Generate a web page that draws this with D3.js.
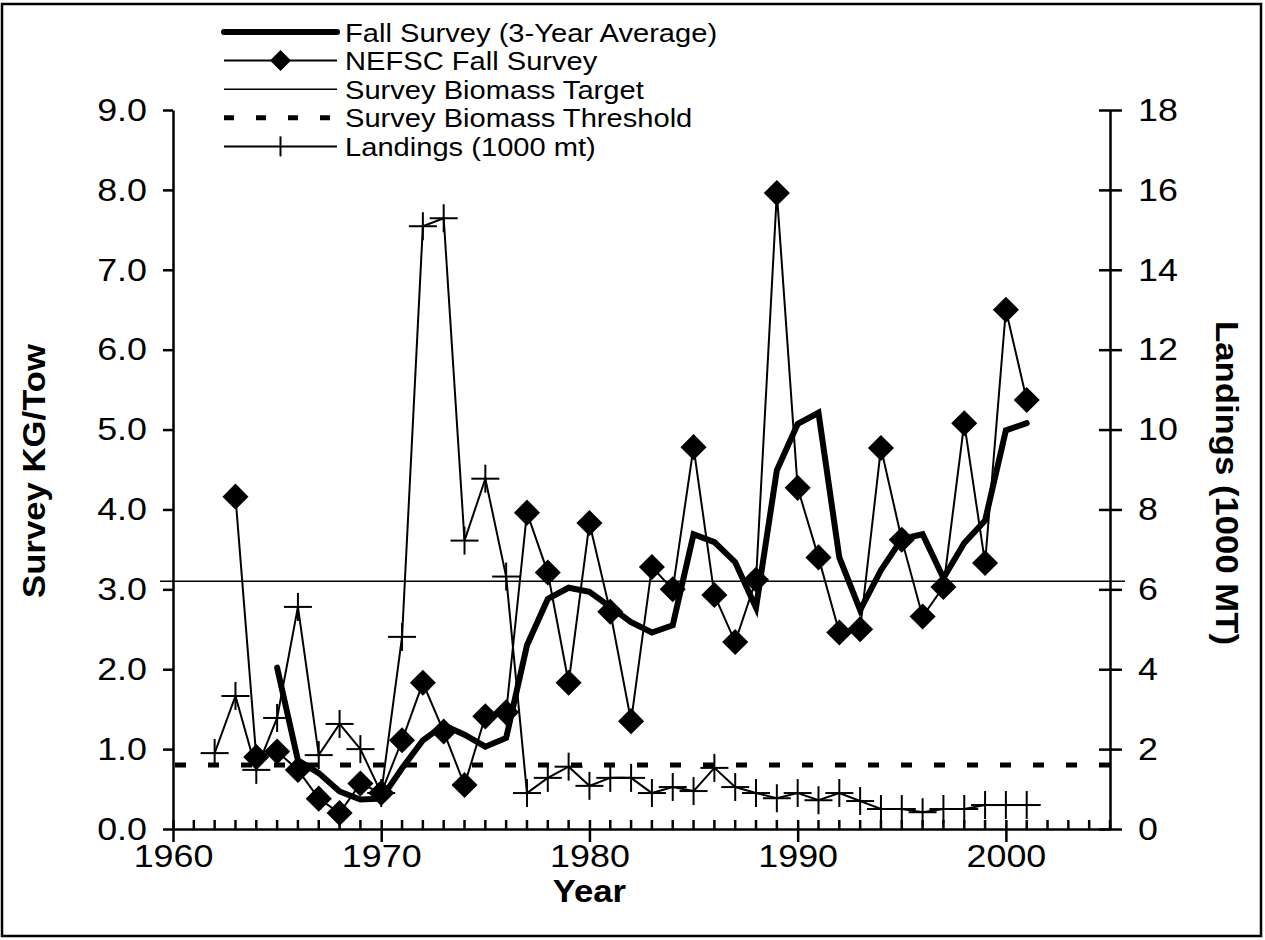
<!DOCTYPE html>
<html>
<head>
<meta charset="utf-8">
<script src="https://cdn.jsdelivr.net/npm/d3@7"></script>
<style>
  html, body { margin: 0; padding: 0; background: #fff; }
  svg text { font-family: "Liberation Sans", Arial, sans-serif; fill: #000; }
</style>
</head>
<body>
<svg id="chart" width="1265" height="940"></svg>
<script>
// Survey index (kg/tow), NEFSC fall survey
const surveyYears = d3.range(1963, 2002);
const surveyValues = [4.16, 0.90, 0.97, 0.74, 0.38, 0.20, 0.57, 0.45, 1.11, 1.83,
  1.22, 0.55, 1.41, 1.46, 3.96, 3.21, 1.83, 3.83, 2.72, 1.35,
  3.28, 3.00, 4.78, 2.93, 2.34, 3.12, 7.96, 4.27, 3.40, 2.46,
  2.50, 4.77, 3.62, 2.66, 3.03, 5.08, 3.33, 6.50, 5.37];

// 3-year running average of the fall survey
const avgYears = d3.range(1965, 2002);
const avgValues = [2.02, 0.86, 0.70, 0.47, 0.37, 0.38, 0.76, 1.11, 1.30, 1.18,
  1.03, 1.14, 2.30, 2.88, 3.02, 2.97, 2.78, 2.59, 2.46, 2.55,
  3.69, 3.59, 3.34, 2.77, 4.49, 5.07, 5.21, 3.40, 2.74, 3.24,
  3.63, 3.69, 3.14, 3.58, 3.86, 4.99, 5.08];

// Commercial landings (1000 mt), right axis
const landYears = d3.range(1962, 2002);
const landValues = [1.90, 3.33, 1.48, 2.78, 5.56, 1.85, 2.63, 2.00, 0.90, 4.81,
  15.09, 15.29, 7.22, 8.77, 6.32, 0.90, 1.28, 1.56, 1.08, 1.28,
  1.28, 0.90, 1.05, 0.95, 1.53, 1.05, 0.90, 0.77, 0.90, 0.72,
  0.90, 0.70, 0.50, 0.50, 0.42, 0.50, 0.50, 0.60, 0.60, 0.60];

// Reference points (kg/tow)
const biomassTarget = 3.1;
const biomassThreshold = 0.8;

// Axis tick values
const leftTicks = d3.range(0, 9.01, 1);
const rightTicks = d3.range(0, 18.01, 2);
const yearMajorTicks = [1960, 1970, 1980, 1990, 2000];
const yearMinorTicks = d3.range(1961, 2006).filter(y => y % 10 !== 0);

const legendLabels = ["Fall Survey (3-Year Average)", "NEFSC Fall Survey",
  "Survey Biomass Target", "Survey Biomass Threshold", "Landings (1000 mt)"];

const svg = d3.select("#chart");

const x = d3.scaleLinear().domain([1960, 2005]).range([173, 1110]);
const yL = d3.scaleLinear().domain([0, 9]).range([829, 110]);
const yR = d3.scaleLinear().domain([0, 18]).range([829, 110]);

// the lettering is a little wider than the stock face
const TEXT_STRETCH = 1.12;
function stretchText(sel) {
  sel.each(function () {
    const t = d3.select(this);
    const tx = +t.attr("x") || 0;
    t.attr("x", tx / TEXT_STRETCH).attr("transform", `scale(${TEXT_STRETCH},1)`);
  });
}

// outer frame
svg.append("rect").attr("x", 2).attr("y", 4).attr("width", 1259).attr("height", 932)
  .attr("fill", "none").attr("stroke", "#000").attr("stroke-width", 2.5);

// ---- axes ----
const axisStroke = 2.5;
const tickFont = 32;
const gLeft = svg.append("g").attr("transform", `translate(${x.range()[0]},0)`)
  .call(d3.axisLeft(yL).tickValues(leftTicks).tickFormat(d3.format(".1f"))
    .tickSize(10).tickSizeOuter(0).tickPadding(16));
const gRight = svg.append("g").attr("transform", `translate(${x.range()[1]},0)`)
  .call(d3.axisRight(yR).tickValues(rightTicks).tickFormat(d3.format("d"))
    .tickSize(12).tickSizeOuter(0).tickPadding(16));
gRight.selectAll(".tick line").attr("x1", -11);
const gBottom = svg.append("g").attr("transform", `translate(0,${yL.range()[0]})`)
  .call(d3.axisBottom(x).tickValues(yearMajorTicks).tickFormat(d3.format("d"))
    .tickSize(13).tickSizeOuter(0).tickPadding(2));
gBottom.selectAll(".tick line").attr("y1", -9);
gBottom.selectAll(".minor").data(yearMinorTicks).enter().append("line")
  .attr("class", "minor")
  .attr("x1", d => x(d)).attr("x2", d => x(d)).attr("y1", 0).attr("y2", -9)
  .attr("stroke", "#000").attr("stroke-width", axisStroke);

[gLeft, gRight, gBottom].forEach(g => {
  g.select(".domain").attr("stroke", "#000").attr("stroke-width", axisStroke);
  g.selectAll(".tick line").attr("stroke", "#000").attr("stroke-width", axisStroke);
  const txt = g.selectAll(".tick text").attr("font-size", tickFont).attr("fill", "#000")
    .style("font-family", "'Liberation Sans', Arial, sans-serif");
  stretchText(txt);
});

// axis titles
const titleFont = 31;
svg.append("text")
  .attr("transform", `translate(45,471) rotate(-90) scale(${TEXT_STRETCH},1)`)
  .attr("text-anchor", "middle").attr("font-size", titleFont).attr("font-weight", "bold")
  .text("Survey KG/Tow");
svg.append("text")
  .attr("transform", `translate(1216,483) rotate(90) scale(${TEXT_STRETCH},1)`)
  .attr("text-anchor", "middle").attr("font-size", titleFont).attr("font-weight", "bold")
  .text("Landings (1000 MT)");
svg.append("text")
  .attr("transform", `translate(${x(1980)},902) scale(${TEXT_STRETCH},1)`)
  .attr("text-anchor", "middle").attr("font-size", titleFont).attr("font-weight", "bold")
  .text("Year");

// ---- reference lines ----
svg.append("line")
  .attr("x1", x.range()[0] - 13).attr("x2", x.range()[1] + 15)
  .attr("y1", yL(biomassTarget)).attr("y2", yL(biomassTarget))
  .attr("stroke", "#000").attr("stroke-width", 1.5);
svg.append("line")
  .attr("x1", x.range()[0] + 2).attr("x2", x.range()[1])
  .attr("y1", yL(biomassThreshold)).attr("y2", yL(biomassThreshold))
  .attr("stroke", "#000").attr("stroke-width", 5).attr("stroke-dasharray", "11,22");

// ---- landings ----
const landData = landYears.map((yr, i) => ({ yr, v: landValues[i] }));
svg.append("path").datum(landData)
  .attr("d", d3.line().x(d => x(d.yr)).y(d => yR(d.v)))
  .attr("fill", "none").attr("stroke", "#000").attr("stroke-width", 2);
const plusHalf = 14;
const gPlus = svg.append("g").selectAll("g").data(landData).enter().append("g")
  .attr("transform", d => `translate(${x(d.yr)},${yR(d.v)})`);
gPlus.append("line").attr("x1", -plusHalf).attr("x2", plusHalf).attr("y1", 0).attr("y2", 0)
  .attr("stroke", "#000").attr("stroke-width", 2);
gPlus.append("line").attr("x1", 0).attr("x2", 0).attr("y1", -plusHalf).attr("y2", plusHalf)
  .attr("stroke", "#000").attr("stroke-width", 2);

// ---- NEFSC survey ----
const surveyData = surveyYears.map((yr, i) => ({ yr, v: surveyValues[i] }));
svg.append("path").datum(surveyData)
  .attr("d", d3.line().x(d => x(d.yr)).y(d => yL(d.v)))
  .attr("fill", "none").attr("stroke", "#000").attr("stroke-width", 2);
svg.append("g").selectAll("path").data(surveyData).enter().append("path")
  .attr("transform", d => `translate(${x(d.yr)},${yL(d.v)}) rotate(45)`)
  .attr("d", d3.symbol().type(d3.symbolSquare).size(340)())
  .attr("fill", "#000");

// ---- 3-year average ----
const avgData = avgYears.map((yr, i) => ({ yr, v: avgValues[i] }));
svg.append("path").datum(avgData)
  .attr("d", d3.line().x(d => x(d.yr)).y(d => yL(d.v)))
  .attr("fill", "none").attr("stroke", "#000").attr("stroke-width", 6)
  .attr("stroke-linejoin", "miter").attr("stroke-linecap", "round");

// ---- legend ----
const lgX0 = 224, lgX1 = 337, lgText = 345, lgY0 = 32, lgStep = 28.6;
const lgMid = (lgX0 + lgX1) / 2;
const lg = svg.append("g");
legendLabels.forEach((label, i) => {
  const yy = lgY0 + i * lgStep;
  lg.append("text")
    .attr("transform", `translate(${lgText},${yy + 9.5}) scale(${TEXT_STRETCH},1)`)
    .attr("font-size", 26).text(label);
});
lg.append("line").attr("x1", lgX0).attr("x2", lgX1).attr("y1", lgY0).attr("y2", lgY0)
  .attr("stroke", "#000").attr("stroke-width", 6).attr("stroke-linecap", "round");
lg.append("line").attr("x1", lgX0).attr("x2", lgX1).attr("y1", lgY0 + lgStep).attr("y2", lgY0 + lgStep)
  .attr("stroke", "#000").attr("stroke-width", 2);
lg.append("path").attr("transform", `translate(${lgMid},${lgY0 + lgStep}) rotate(45)`)
  .attr("d", d3.symbol().type(d3.symbolSquare).size(220)()).attr("fill", "#000");
lg.append("line").attr("x1", lgX0).attr("x2", lgX1).attr("y1", lgY0 + 2 * lgStep).attr("y2", lgY0 + 2 * lgStep)
  .attr("stroke", "#000").attr("stroke-width", 1.5);
lg.append("line").attr("x1", lgX0).attr("x2", lgX1 - 3).attr("y1", lgY0 + 3 * lgStep).attr("y2", lgY0 + 3 * lgStep)
  .attr("stroke", "#000").attr("stroke-width", 5).attr("stroke-dasharray", "10,22");
lg.append("line").attr("x1", lgX0).attr("x2", lgX1).attr("y1", lgY0 + 4 * lgStep).attr("y2", lgY0 + 4 * lgStep)
  .attr("stroke", "#000").attr("stroke-width", 2);
lg.append("line").attr("x1", lgMid).attr("x2", lgMid)
  .attr("y1", lgY0 + 4 * lgStep - 10).attr("y2", lgY0 + 4 * lgStep + 10)
  .attr("stroke", "#000").attr("stroke-width", 2);
</script>
</body>
</html>
